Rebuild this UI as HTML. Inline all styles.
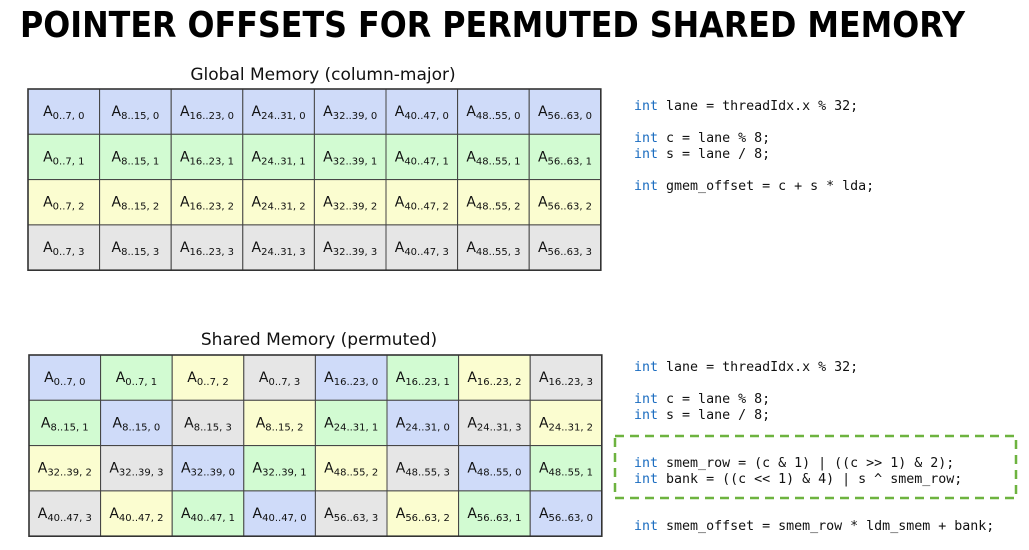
<!DOCTYPE html>
<html><head><meta charset="utf-8"><style>
html,body{margin:0;padding:0;background:#fff;}
svg{display:block;}
.c{font-family:"DejaVu Sans",sans-serif;font-size:14px;fill:#111;text-anchor:middle;}
.c tspan{font-size:10px;}
.m{font-family:"DejaVu Sans Mono","Liberation Mono",monospace;font-size:13.3px;fill:#111;}
.k{fill:#1a6cc0;}
.B{fill:#cfdbf9}.G{fill:#d2fbd2}.Y{fill:#fbfdd0}.R{fill:#e6e6e6}
rect.cell{stroke:#444;stroke-width:1;}
</style></head><body>
<svg width="1029" height="550" xmlns="http://www.w3.org/2000/svg">
<text x="20" y="37" font-family="DejaVu Sans,sans-serif" font-weight="bold" font-size="36" textLength="945" lengthAdjust="spacingAndGlyphs" fill="#000">POINTER OFFSETS FOR PERMUTED SHARED MEMORY</text>
<text x="323" y="80" font-family="DejaVu Sans,sans-serif" font-size="17" text-anchor="middle" fill="#111">Global Memory (column-major)</text>
<text x="319" y="345" font-family="DejaVu Sans,sans-serif" font-size="17" text-anchor="middle" fill="#111">Shared Memory (permuted)</text>

<g>
<rect class="cell B" x="28" y="89" width="71.6" height="45.3"/><rect class="cell B" x="99.6" y="89" width="71.6" height="45.3"/><rect class="cell B" x="171.2" y="89" width="71.6" height="45.3"/><rect class="cell B" x="242.8" y="89" width="71.6" height="45.3"/><rect class="cell B" x="314.4" y="89" width="71.6" height="45.3"/><rect class="cell B" x="386" y="89" width="71.6" height="45.3"/><rect class="cell B" x="457.6" y="89" width="71.6" height="45.3"/><rect class="cell B" x="529.2" y="89" width="71.6" height="45.3"/>
<rect class="cell G" x="28" y="134.3" width="71.6" height="45.3"/><rect class="cell G" x="99.6" y="134.3" width="71.6" height="45.3"/><rect class="cell G" x="171.2" y="134.3" width="71.6" height="45.3"/><rect class="cell G" x="242.8" y="134.3" width="71.6" height="45.3"/><rect class="cell G" x="314.4" y="134.3" width="71.6" height="45.3"/><rect class="cell G" x="386" y="134.3" width="71.6" height="45.3"/><rect class="cell G" x="457.6" y="134.3" width="71.6" height="45.3"/><rect class="cell G" x="529.2" y="134.3" width="71.6" height="45.3"/>
<rect class="cell Y" x="28" y="179.6" width="71.6" height="45.3"/><rect class="cell Y" x="99.6" y="179.6" width="71.6" height="45.3"/><rect class="cell Y" x="171.2" y="179.6" width="71.6" height="45.3"/><rect class="cell Y" x="242.8" y="179.6" width="71.6" height="45.3"/><rect class="cell Y" x="314.4" y="179.6" width="71.6" height="45.3"/><rect class="cell Y" x="386" y="179.6" width="71.6" height="45.3"/><rect class="cell Y" x="457.6" y="179.6" width="71.6" height="45.3"/><rect class="cell Y" x="529.2" y="179.6" width="71.6" height="45.3"/>
<rect class="cell R" x="28" y="224.9" width="71.6" height="45.3"/><rect class="cell R" x="99.6" y="224.9" width="71.6" height="45.3"/><rect class="cell R" x="171.2" y="224.9" width="71.6" height="45.3"/><rect class="cell R" x="242.8" y="224.9" width="71.6" height="45.3"/><rect class="cell R" x="314.4" y="224.9" width="71.6" height="45.3"/><rect class="cell R" x="386" y="224.9" width="71.6" height="45.3"/><rect class="cell R" x="457.6" y="224.9" width="71.6" height="45.3"/><rect class="cell R" x="529.2" y="224.9" width="71.6" height="45.3"/>
<rect x="28" y="89" width="572.8" height="181.2" fill="none" stroke="#333" stroke-width="1.6"/>
</g>
<g>
<text class="c" x="63.8" y="116">A<tspan dy="3">0..7, 0</tspan></text><text class="c" x="135.4" y="116">A<tspan dy="3">8..15, 0</tspan></text><text class="c" x="207" y="116">A<tspan dy="3">16..23, 0</tspan></text><text class="c" x="278.6" y="116">A<tspan dy="3">24..31, 0</tspan></text><text class="c" x="350.2" y="116">A<tspan dy="3">32..39, 0</tspan></text><text class="c" x="421.8" y="116">A<tspan dy="3">40..47, 0</tspan></text><text class="c" x="493.4" y="116">A<tspan dy="3">48..55, 0</tspan></text><text class="c" x="565" y="116">A<tspan dy="3">56..63, 0</tspan></text>
<text class="c" x="63.8" y="161.3">A<tspan dy="3">0..7, 1</tspan></text><text class="c" x="135.4" y="161.3">A<tspan dy="3">8..15, 1</tspan></text><text class="c" x="207" y="161.3">A<tspan dy="3">16..23, 1</tspan></text><text class="c" x="278.6" y="161.3">A<tspan dy="3">24..31, 1</tspan></text><text class="c" x="350.2" y="161.3">A<tspan dy="3">32..39, 1</tspan></text><text class="c" x="421.8" y="161.3">A<tspan dy="3">40..47, 1</tspan></text><text class="c" x="493.4" y="161.3">A<tspan dy="3">48..55, 1</tspan></text><text class="c" x="565" y="161.3">A<tspan dy="3">56..63, 1</tspan></text>
<text class="c" x="63.8" y="206.6">A<tspan dy="3">0..7, 2</tspan></text><text class="c" x="135.4" y="206.6">A<tspan dy="3">8..15, 2</tspan></text><text class="c" x="207" y="206.6">A<tspan dy="3">16..23, 2</tspan></text><text class="c" x="278.6" y="206.6">A<tspan dy="3">24..31, 2</tspan></text><text class="c" x="350.2" y="206.6">A<tspan dy="3">32..39, 2</tspan></text><text class="c" x="421.8" y="206.6">A<tspan dy="3">40..47, 2</tspan></text><text class="c" x="493.4" y="206.6">A<tspan dy="3">48..55, 2</tspan></text><text class="c" x="565" y="206.6">A<tspan dy="3">56..63, 2</tspan></text>
<text class="c" x="63.8" y="251.9">A<tspan dy="3">0..7, 3</tspan></text><text class="c" x="135.4" y="251.9">A<tspan dy="3">8..15, 3</tspan></text><text class="c" x="207" y="251.9">A<tspan dy="3">16..23, 3</tspan></text><text class="c" x="278.6" y="251.9">A<tspan dy="3">24..31, 3</tspan></text><text class="c" x="350.2" y="251.9">A<tspan dy="3">32..39, 3</tspan></text><text class="c" x="421.8" y="251.9">A<tspan dy="3">40..47, 3</tspan></text><text class="c" x="493.4" y="251.9">A<tspan dy="3">48..55, 3</tspan></text><text class="c" x="565" y="251.9">A<tspan dy="3">56..63, 3</tspan></text>
</g>

<g>
<rect class="cell B" x="29" y="355" width="71.6" height="45.3"/><rect class="cell G" x="100.6" y="355" width="71.6" height="45.3"/><rect class="cell Y" x="172.2" y="355" width="71.6" height="45.3"/><rect class="cell R" x="243.8" y="355" width="71.6" height="45.3"/><rect class="cell B" x="315.4" y="355" width="71.6" height="45.3"/><rect class="cell G" x="387" y="355" width="71.6" height="45.3"/><rect class="cell Y" x="458.6" y="355" width="71.6" height="45.3"/><rect class="cell R" x="530.2" y="355" width="71.6" height="45.3"/>
<rect class="cell G" x="29" y="400.3" width="71.6" height="45.3"/><rect class="cell B" x="100.6" y="400.3" width="71.6" height="45.3"/><rect class="cell R" x="172.2" y="400.3" width="71.6" height="45.3"/><rect class="cell Y" x="243.8" y="400.3" width="71.6" height="45.3"/><rect class="cell G" x="315.4" y="400.3" width="71.6" height="45.3"/><rect class="cell B" x="387" y="400.3" width="71.6" height="45.3"/><rect class="cell R" x="458.6" y="400.3" width="71.6" height="45.3"/><rect class="cell Y" x="530.2" y="400.3" width="71.6" height="45.3"/>
<rect class="cell Y" x="29" y="445.6" width="71.6" height="45.3"/><rect class="cell R" x="100.6" y="445.6" width="71.6" height="45.3"/><rect class="cell B" x="172.2" y="445.6" width="71.6" height="45.3"/><rect class="cell G" x="243.8" y="445.6" width="71.6" height="45.3"/><rect class="cell Y" x="315.4" y="445.6" width="71.6" height="45.3"/><rect class="cell R" x="387" y="445.6" width="71.6" height="45.3"/><rect class="cell B" x="458.6" y="445.6" width="71.6" height="45.3"/><rect class="cell G" x="530.2" y="445.6" width="71.6" height="45.3"/>
<rect class="cell R" x="29" y="490.9" width="71.6" height="45.3"/><rect class="cell Y" x="100.6" y="490.9" width="71.6" height="45.3"/><rect class="cell G" x="172.2" y="490.9" width="71.6" height="45.3"/><rect class="cell B" x="243.8" y="490.9" width="71.6" height="45.3"/><rect class="cell R" x="315.4" y="490.9" width="71.6" height="45.3"/><rect class="cell Y" x="387" y="490.9" width="71.6" height="45.3"/><rect class="cell G" x="458.6" y="490.9" width="71.6" height="45.3"/><rect class="cell B" x="530.2" y="490.9" width="71.6" height="45.3"/>
<rect x="29" y="355" width="572.8" height="181.2" fill="none" stroke="#333" stroke-width="1.6"/>
</g>
<g>
<text class="c" x="64.8" y="382">A<tspan dy="3">0..7, 0</tspan></text><text class="c" x="136.4" y="382">A<tspan dy="3">0..7, 1</tspan></text><text class="c" x="208" y="382">A<tspan dy="3">0..7, 2</tspan></text><text class="c" x="279.6" y="382">A<tspan dy="3">0..7, 3</tspan></text><text class="c" x="351.2" y="382">A<tspan dy="3">16..23, 0</tspan></text><text class="c" x="422.8" y="382">A<tspan dy="3">16..23, 1</tspan></text><text class="c" x="494.4" y="382">A<tspan dy="3">16..23, 2</tspan></text><text class="c" x="566" y="382">A<tspan dy="3">16..23, 3</tspan></text>
<text class="c" x="64.8" y="427.3">A<tspan dy="3">8..15, 1</tspan></text><text class="c" x="136.4" y="427.3">A<tspan dy="3">8..15, 0</tspan></text><text class="c" x="208" y="427.3">A<tspan dy="3">8..15, 3</tspan></text><text class="c" x="279.6" y="427.3">A<tspan dy="3">8..15, 2</tspan></text><text class="c" x="351.2" y="427.3">A<tspan dy="3">24..31, 1</tspan></text><text class="c" x="422.8" y="427.3">A<tspan dy="3">24..31, 0</tspan></text><text class="c" x="494.4" y="427.3">A<tspan dy="3">24..31, 3</tspan></text><text class="c" x="566" y="427.3">A<tspan dy="3">24..31, 2</tspan></text>
<text class="c" x="64.8" y="472.6">A<tspan dy="3">32..39, 2</tspan></text><text class="c" x="136.4" y="472.6">A<tspan dy="3">32..39, 3</tspan></text><text class="c" x="208" y="472.6">A<tspan dy="3">32..39, 0</tspan></text><text class="c" x="279.6" y="472.6">A<tspan dy="3">32..39, 1</tspan></text><text class="c" x="351.2" y="472.6">A<tspan dy="3">48..55, 2</tspan></text><text class="c" x="422.8" y="472.6">A<tspan dy="3">48..55, 3</tspan></text><text class="c" x="494.4" y="472.6">A<tspan dy="3">48..55, 0</tspan></text><text class="c" x="566" y="472.6">A<tspan dy="3">48..55, 1</tspan></text>
<text class="c" x="64.8" y="517.9">A<tspan dy="3">40..47, 3</tspan></text><text class="c" x="136.4" y="517.9">A<tspan dy="3">40..47, 2</tspan></text><text class="c" x="208" y="517.9">A<tspan dy="3">40..47, 1</tspan></text><text class="c" x="279.6" y="517.9">A<tspan dy="3">40..47, 0</tspan></text><text class="c" x="351.2" y="517.9">A<tspan dy="3">56..63, 3</tspan></text><text class="c" x="422.8" y="517.9">A<tspan dy="3">56..63, 2</tspan></text><text class="c" x="494.4" y="517.9">A<tspan dy="3">56..63, 1</tspan></text><text class="c" x="566" y="517.9">A<tspan dy="3">56..63, 0</tspan></text>
</g>

<g xml:space="preserve">
<text class="m" x="634" y="110"><tspan class="k">int</tspan> lane = threadIdx.x % 32;</text>
<text class="m" x="634" y="142"><tspan class="k">int</tspan> c = lane % 8;</text>
<text class="m" x="634" y="158"><tspan class="k">int</tspan> s = lane / 8;</text>
<text class="m" x="634" y="190"><tspan class="k">int</tspan> gmem_offset = c + s * lda;</text>
<text class="m" x="634" y="371"><tspan class="k">int</tspan> lane = threadIdx.x % 32;</text>
<text class="m" x="634" y="403"><tspan class="k">int</tspan> c = lane % 8;</text>
<text class="m" x="634" y="419"><tspan class="k">int</tspan> s = lane / 8;</text>
<text class="m" x="634" y="467"><tspan class="k">int</tspan> smem_row = (c &amp; 1) | ((c &gt;&gt; 1) &amp; 2);</text>
<text class="m" x="634" y="483"><tspan class="k">int</tspan> bank = ((c &lt;&lt; 1) &amp; 4) | s ^ smem_row;</text>
<text class="m" x="634" y="530"><tspan class="k">int</tspan> smem_offset = smem_row * ldm_smem + bank;</text>
</g>
<rect x="615" y="436" width="401" height="62" fill="none" stroke="#6db33f" stroke-width="2.5" stroke-dasharray="9,6"/>
</svg>
</body></html>
